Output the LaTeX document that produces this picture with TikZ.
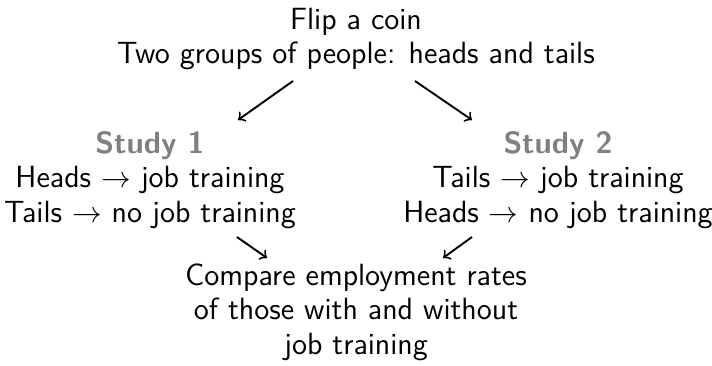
\documentclass[tikz,border=0pt]{standalone}
\begin{document}
\begin{tikzpicture}[x=0.37pt,y=-0.37pt,
  every node/.style={font=\fontsize{11.35}{12.8}\selectfont\sffamily,align=center,inner sep=0pt},
  link/.style={->,line width=0.7pt}]
\useasboundingbox (0,0) rectangle (712,366);
\node (top) at (356,39) {Flip a coin\\Two groups of people: heads and tails};
\node (s1) at (150,180) {{\color{black!50}\bfseries Study 1}\\Heads $\to$ job training\\Tails $\to$ no job training};
\node (s2) at (558,180) {{\color{black!50}\bfseries Study 2}\\Tails $\to$ job training\\Heads $\to$ no job training};
\node (cmp) at (356,312) {Compare employment rates\\of those with and without\\job training};
\coordinate (a1) at (293,81);  \coordinate (b1) at (238,120);
\coordinate (a2) at (415,81);  \coordinate (b2) at (472,120);
\coordinate (a3) at (237,237); \coordinate (b3) at (267,258);
\coordinate (a4) at (472,237); \coordinate (b4) at (443,258);
\draw[link] (a1) -- (b1);
\draw[link] (a2) -- (b2);
\draw[link] (a3) -- (b3);
\draw[link] (a4) -- (b4);
\end{tikzpicture}
\end{document}
